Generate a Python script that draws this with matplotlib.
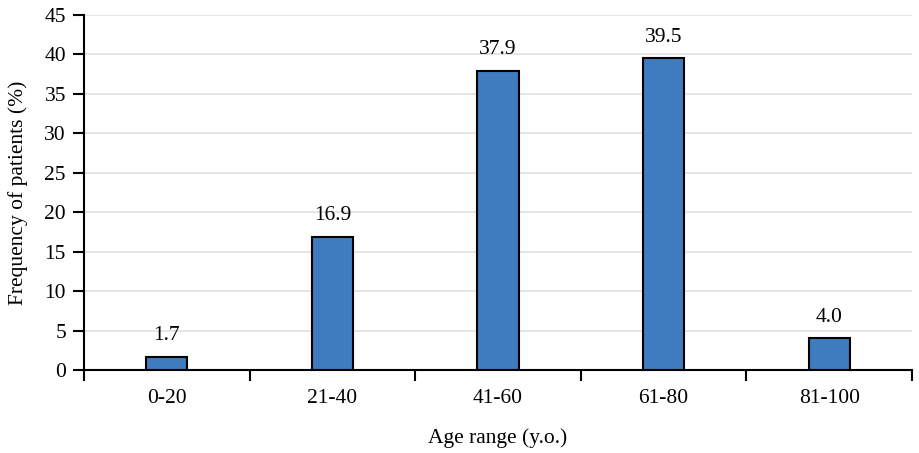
import matplotlib.pyplot as plt
import numpy as np

age_ranges = ['0-20', '21-40', '41-60', '61-80', '81-100']
frequency = [1.7, 16.9, 37.9, 39.5, 4.0]

plt.rcParams['font.family'] = ['Liberation Serif', 'DejaVu Serif']
fs = 15.5

fig = plt.figure(figsize=(9.19, 4.53), dpi=100)
ax = fig.add_axes([0.0914, 0.1832, 0.9010, 0.7837])

x = np.arange(len(age_ranges))
bars = ax.bar(x, frequency, width=0.25, color='#3e7bbf', edgecolor='black', linewidth=1.5, zorder=3)

for xi, v in zip(x, frequency):
    ax.text(xi, v + 1.5, f'{v:.1f}', ha='center', va='bottom', fontsize=fs)

ax.set_xlim(-0.5, len(age_ranges) - 0.5)
ax.set_ylim(0, 45)
ax.set_yticks(range(0, 46, 5))
ax.yaxis.grid(True, color='#e0e0e0', linewidth=1.2, zorder=0)

# ticks sit on the category borders, labels in the middle
ax.set_xticks(np.arange(-0.5, len(age_ranges)), minor=False)
ax.set_xticklabels([])
ax.set_xticks(x, minor=True)
ax.set_xticklabels(age_ranges, minor=True, fontsize=fs)
ax.tick_params(axis='x', which='major', direction='out', length=8, width=1.5)
ax.tick_params(axis='x', which='minor', length=0, pad=14)
ax.tick_params(axis='y', direction='out', length=8, width=1.5, labelsize=fs, pad=5)

for s in ['top', 'right']:
    ax.spines[s].set_visible(False)
for s in ['left', 'bottom']:
    ax.spines[s].set_linewidth(1.5)

ax.set_xlabel('Age range (y.o.)', fontsize=fs, labelpad=14)
ax.set_ylabel('Frequency of patients (%)', fontsize=fs, labelpad=12)

fig.savefig('out.png', dpi=100)
